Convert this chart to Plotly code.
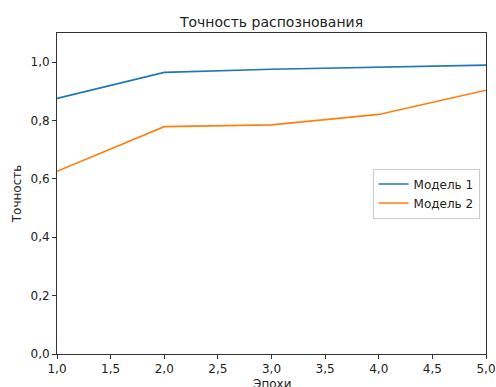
import plotly.graph_objects as go

epochs = [1, 2, 3, 4, 5]
model1 = [0.876, 0.965, 0.976, 0.983, 0.990]
model2 = [0.626, 0.779, 0.785, 0.821, 0.904]
x_ticks = [1.0, 1.5, 2.0, 2.5, 3.0, 3.5, 4.0, 4.5, 5.0]
y_ticks = [0.0, 0.2, 0.4, 0.6, 0.8, 1.0]

fig = go.Figure()
fig.add_trace(go.Scatter(x=epochs, y=model1, mode="lines", name="Модель 1",
                         line=dict(color="#1f77b4", width=1.6)))
fig.add_trace(go.Scatter(x=epochs, y=model2, mode="lines", name="Модель 2",
                         line=dict(color="#ff7f0e", width=1.6)))

axis_common = dict(showgrid=False, zeroline=False, showline=True, linecolor="#333333",
                   linewidth=1, mirror=True, ticks="outside", ticklen=4, tickwidth=1,
                   tickcolor="#333333", tickfont=dict(size=12, color="#222222"),
                   automargin=False)
fig.update_xaxes(range=[1, 5], tickvals=x_ticks, tickformat=".1f", **axis_common)
fig.update_yaxes(range=[0, 1.1], tickvals=y_ticks, tickformat=".1f",
                 title=dict(text="Точность", font=dict(size=12, color="#222222"), standoff=6),
                 **axis_common)

W, H = 496, 387
plot_h = H - 33 - 33
fig.update_layout(
    width=W, height=H,
    margin=dict(l=57, r=10, t=33, b=33, autoexpand=False),
    separators=", ",
    font=dict(family="DejaVu Sans", size=12, color="#222222"),
    title=dict(text="Точность распознования", x=0.5, xref="paper", y=1 - 22/H,
               yanchor="middle", font=dict(size=14, color="#222222")),
    plot_bgcolor="white", paper_bgcolor="white",
    legend=dict(x=0.985, y=0.5, xanchor="right", yanchor="middle",
                bgcolor="rgba(255,255,255,0.8)", bordercolor="#cccccc", borderwidth=1,
                font=dict(size=12), itemwidth=30, tracegroupgap=0),
    showlegend=True,
    annotations=[dict(text="Эпохи", xref="paper", yref="paper", x=0.5, y=-30/plot_h,
                      xanchor="center", yanchor="middle", showarrow=False,
                      font=dict(size=12, color="#222222"))],
)

pin_to_corner = (
    "document.body.style.margin='0';"
    "var gd=document.getElementsByClassName('plotly-graph-div')[0];"
    "gd.style.position='fixed';gd.style.left='0px';gd.style.top='0px';"
)
fig.write_html("out.html", config={"displayModeBar": False}, post_script=pin_to_corner)
